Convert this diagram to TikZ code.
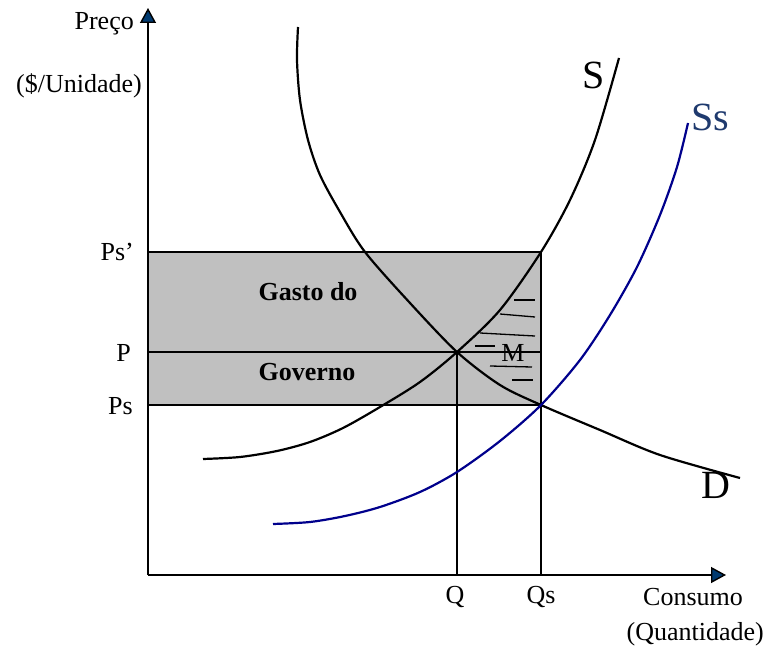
\documentclass[tikz,border=0pt]{standalone}
\usepackage{fontspec}
\setmainfont{Liberation Serif}
\usepackage{xcolor}
\usepackage{tikz}
\usetikzlibrary{arrows.meta, positioning}

\definecolor{tipblue}{HTML}{003A70}
\definecolor{ssblue}{HTML}{00008C}
\definecolor{sslabel}{HTML}{1F3A6E}
\definecolor{gasto}{HTML}{C0C0C0}

\tikzset{
  lbl/.style={font=\fontsize{26}{30}\selectfont, inner sep=0pt},
  bigl/.style={font=\fontsize{40}{44}\selectfont, inner sep=0pt},
  axis/.style={line width=1.4pt, -{Triangle[length=15pt,width=16pt,fill=tipblue]}},
  curve/.style={line width=2.2pt},
  thin line/.style={line width=1.3pt}
}

\begin{document}
\begin{tikzpicture}[x=1pt, y=-1pt]
        \useasboundingbox (0,0) rectangle (764,650);
        % corners of the box
        \coordinate (O) at (148,575);
        \coordinate (ytop) at (148,8);
        \coordinate (xend) at (726,575);
        \coordinate (A) at (148,252);
        \coordinate (B) at (541,405);
        \coordinate (pl) at (148,352);
        \coordinate (pr) at (541,352);
        \coordinate (E) at (457,352);
        \coordinate (Qa) at (457,575);
        \coordinate (Qsa) at (541,575);

        \fill[gasto] (A) rectangle (B);
        \draw[line width=1.8pt] (A) -- (A -| B) -- (B) -- (B -| A);
        \draw[thin line] (pl) -- (pr);
        \draw[thin line] (E) -- (Qa);
        \draw[thin line] (B) -- (Qsa);

        % hatch in M
        \foreach \xa/\ya/\xb/\yb in {514/300/535/300, 500/314/535/317, 480/333/535/336,
                           475/346/495/346, 490/366/532/367, 512/380/533/380}
          \draw[thin line] (\xa,\ya) -- (\xb,\yb);

        \draw[axis] (O) -- (ytop);
        \draw[axis] (O) -- (xend);

        % curves
        \draw[curve] plot[smooth, tension=0.5] coordinates {(203,459) (240,457) (277,451)
            (310,442) (343,428) (380,407) (420,382) (457,352) (500,310) (541,252)
            (570,200) (595,140) (619,58)};
        \draw[curve] plot[smooth, tension=0.5] coordinates {(298,27) (297,60) (300,100)
            (308,140) (320,175) (340,212) (365,252) (410,303) (457,352) (500,385)
            (541,405) (600,430) (660,455) (740,478)};
        \draw[curve, ssblue] plot[smooth, tension=0.5] coordinates {(273,524) (310,522)
            (345,516) (380,507) (420,492) (457,472) (500,441) (541,405) (580,360)
            (610,315) (637,267) (660,215) (677,167) (688,123)};

        % labels
        \node[lbl, anchor=east] (preco) at (134,24) {Preço};
        \node[lbl, anchor=east] (unid) at (142,86) {(\$/Unidade)};
        \node[lbl, anchor=east] (ps1) at (134,252) {Ps’};
        \node[lbl, anchor=east] (p) at (131,353) {P};
        \node[lbl, anchor=east] (ps) at (133,406) {Ps};
        \node[lbl] (q) at (455,597) {Q};
        \node[lbl] (qs) at (541,597) {Qs};
        \node[lbl, anchor=west] (cons) at (643,597) {Consumo};
        \node[lbl, anchor=east] (quant) at (764,634) {(Quantidade)};
        \node[lbl, font=\fontsize{26}{30}\selectfont\bfseries] (gd) at (308,292) {Gasto do};
        \node[lbl, font=\fontsize{26}{30}\selectfont\bfseries] (gov) at (307,372) {Governo};
        \node[lbl] (m) at (513,353) {M};
        \node[bigl] (s) at (594,75) {S};
        \node[bigl, sslabel] (ss) at (710,117) {Ss};
        \node[bigl] (d) at (716,485) {D};
\end{tikzpicture}
\end{document}
